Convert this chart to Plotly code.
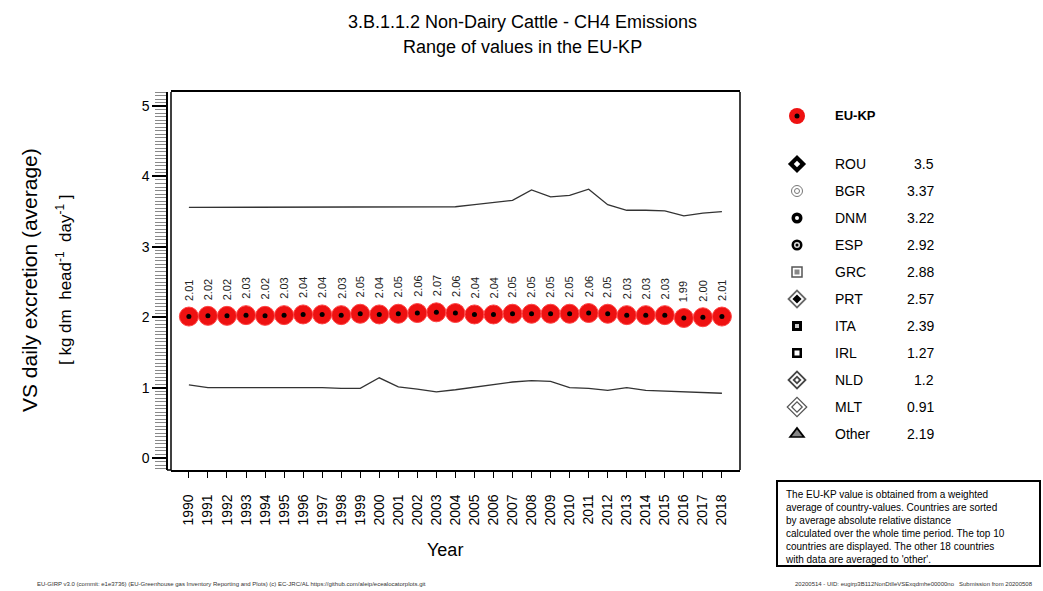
import plotly.graph_objects as go

# ---------------- data ----------------
years = list(range(1990, 2019))
eu_kp = [2.01, 2.02, 2.02, 2.03, 2.02, 2.03, 2.04, 2.04, 2.03, 2.05, 2.04, 2.05, 2.06, 2.07, 2.06,
         2.04, 2.04, 2.05, 2.05, 2.05, 2.05, 2.06, 2.05, 2.03, 2.03, 2.03, 1.99, 2.00, 2.01]
upper = [3.56, 3.56, 3.56, 3.56, 3.56, 3.56, 3.56, 3.56, 3.56, 3.56, 3.56, 3.56, 3.56, 3.56, 3.57,
         3.60, 3.63, 3.66, 3.81, 3.71, 3.73, 3.82, 3.60, 3.52, 3.52, 3.51, 3.44, 3.48, 3.50]
lower = [1.04, 1.00, 1.00, 1.00, 1.00, 1.00, 1.01, 1.00, 0.99, 0.99, 1.14, 1.01, 0.98, 0.94, 0.97,
         1.01, 1.05, 1.08, 1.10, 1.09, 1.00, 0.99, 0.96, 1.00, 0.96, 0.95, 0.94, 0.93, 0.92]
countries = ["ROU", "BGR", "DNM", "ESP", "GRC", "PRT", "ITA", "IRL", "NLD", "MLT", "Other"]
country_values = ["3.5", "3.37", "3.22", "2.92", "2.88", "2.57", "2.39", "1.27", "1.2", "0.91", "2.19"]

W, H = 1043, 591
FONT = "Liberation Sans, Arial, sans-serif"

def px(x):
    return x / W

def py(y):
    return 1 - y / H

fig = go.Figure()

# range lines
fig.add_trace(go.Scatter(x=years, y=upper, mode="lines", line=dict(color="#333333", width=1.3),
                         showlegend=False, hoverinfo="skip"))
fig.add_trace(go.Scatter(x=years, y=lower, mode="lines", line=dict(color="#333333", width=1.3),
                         showlegend=False, hoverinfo="skip"))
# EU-KP markers
fig.add_trace(go.Scatter(x=years, y=eu_kp, mode="markers",
                         marker=dict(symbol="circle", size=19, color="#ee1111",
                                     line=dict(color="#ff4444", width=1)),
                         showlegend=False))
fig.add_trace(go.Scatter(x=years, y=eu_kp, mode="markers",
                         marker=dict(symbol="circle", size=5, color="black"),
                         showlegend=False, hoverinfo="skip"))

# value labels
annotations = []
for yr, v in zip(years, eu_kp):
    annotations.append(dict(x=yr, y=v, xref="x", yref="y", text=f"{v:.2f}", showarrow=False,
                            textangle=-90, yanchor="bottom", yshift=14,
                            font=dict(family=FONT, size=11, color="#222222")))

fig.update_layout(
    width=W, height=H, margin=dict(l=0, r=0, t=0, b=0),
    paper_bgcolor="white", plot_bgcolor="rgba(0,0,0,0)",
    font=dict(family=FONT, color="black"),
    xaxis=dict(domain=[px(171), px(740)], range=[1989.06, 2018.95],
               tickmode="linear", tick0=1990, dtick=1,
               tickangle=-90, ticks="outside", ticklen=6, tickwidth=1.2, tickcolor="black",
               ticklabelstandoff=11,
               tickfont=dict(size=14, family=FONT), showgrid=False, zeroline=False,
               showline=True, linecolor="black", linewidth=1.5, mirror=True, anchor="y"),
    yaxis=dict(domain=[py(470), py(92)], range=[-0.17, 5.2],
               anchor="free", position=px(167),
               tickmode="linear", tick0=0, dtick=1,
               ticks="outside", ticklen=14, tickwidth=1.5, tickcolor="black",
               tickfont=dict(size=14, family=FONT), showgrid=False, zeroline=False,
               showline=True, linecolor="black", linewidth=1.5,
               minor=dict(dtick=0.05, ticks="outside", ticklen=11,
                          tickcolor="#888888", tickwidth=1, showgrid=False)),
    xaxis2=dict(domain=[0, 1], range=[0, W], visible=False, fixedrange=True, anchor="y2"),
    yaxis2=dict(domain=[0, 1], range=[H, 0], visible=False, fixedrange=True, anchor="x2"),
)

# plot box (inner left and right borders) and bottom extension to outer line
fig.add_shape(type="line", xref="paper", yref="paper", x0=px(171), x1=px(171), y0=py(470), y1=py(92),
              line=dict(color="black", width=1.5))
fig.add_shape(type="line", xref="paper", yref="paper", x0=px(740), x1=px(740), y0=py(470), y1=py(92),
              line=dict(color="black", width=1.5))
fig.add_shape(type="line", xref="paper", yref="paper", x0=px(167), x1=px(171), y0=py(470), y1=py(470),
              line=dict(color="black", width=1.5))

# titles
annotations += [
    dict(x=px(522), y=py(22), xref="paper", yref="paper", text="3.B.1.1.2 Non-Dairy Cattle - CH4 Emissions",
         showarrow=False, font=dict(size=18, family=FONT), xanchor="center", yanchor="middle"),
    dict(x=px(522), y=py(47), xref="paper", yref="paper", text="Range of values in the EU-KP",
         showarrow=False, font=dict(size=18, family=FONT), xanchor="center", yanchor="middle"),
    dict(x=px(445), y=py(550), xref="paper", yref="paper", text="Year",
         showarrow=False, font=dict(size=18, family=FONT), xanchor="center", yanchor="middle"),
    dict(x=px(30), y=py(280), xref="paper", yref="paper", text="VS daily excretion (average)",
         showarrow=False, textangle=-90, font=dict(size=21, family=FONT), xanchor="center", yanchor="middle"),
    dict(x=px(64), y=py(280), xref="paper", yref="paper",
         text="[ kg dm  head<sup>-1</sup>  day<sup>-1</sup> ]",
         showarrow=False, textangle=-90, font=dict(size=17, family=FONT), xanchor="center", yanchor="middle"),
]

# legend
fig.add_trace(go.Scatter(x=[797], y=[116], xaxis="x2", yaxis="y2", mode="markers",
                         marker=dict(symbol="circle", size=16, color="#ee1111"),
                         showlegend=False, hoverinfo="skip"))
fig.add_trace(go.Scatter(x=[797], y=[116], xaxis="x2", yaxis="y2", mode="markers",
                         marker=dict(symbol="circle", size=5, color="black"),
                         showlegend=False, hoverinfo="skip"))
annotations.append(dict(x=px(833), y=py(116), xref="paper", yref="paper", text="<b>EU-KP</b>",
                        showarrow=False, xanchor="left", yanchor="middle", font=dict(size=13, family=FONT)))

styles = [
    [("diamond", 14, "black", "black", 0), ("diamond", 5, "white", "white", 0)],
    [("circle-open", 11, "#777777", "#777777", 1), ("circle-open", 5, "#777777", "#777777", 1)],
    [("circle", 11, "black", "black", 0), ("circle", 4, "white", "white", 0)],
    [("circle", 11, "black", "black", 0), ("circle", 6, "#dddddd", "#dddddd", 0), ("circle", 3, "black", "black", 0)],
    [("square-open", 10, "#555555", "#555555", 1.5), ("square", 5, "#888888", "#888888", 0)],
    [("diamond", 15, "#666666", "#666666", 0), ("diamond", 11, "white", "white", 0), ("diamond", 7, "black", "black", 0)],
    [("square", 10, "black", "black", 0), ("square", 4, "#cccccc", "#cccccc", 0)],
    [("square", 10, "black", "black", 0), ("square", 5, "white", "white", 0)],
    [("diamond", 15, "#444444", "#444444", 0), ("diamond", 11, "white", "white", 0), ("diamond", 7, "#444444", "#444444", 0), ("diamond", 3, "white", "white", 0)],
    [("diamond-open", 15, "#555555", "#555555", 1.2), ("diamond-open", 8, "#555555", "#555555", 1.2)],
    [("triangle-up", 15, "black", "black", 0), ("triangle-up", 9, "#888888", "#888888", 0)],
]

for i, (name, val, st) in enumerate(zip(countries, country_values, styles)):
    yy = 164 + i * 27
    for sym, sz, col, lc, lw in st:
        fig.add_trace(go.Scatter(x=[797], y=[yy], xaxis="x2", yaxis="y2", mode="markers",
                                 marker=dict(symbol=sym, size=sz, color=col, line=dict(color=lc, width=lw)),
                                 showlegend=False, hoverinfo="skip"))
    annotations.append(dict(x=px(833), y=py(yy), xref="paper", yref="paper", text=name, showarrow=False,
                            xanchor="left", yanchor="middle", font=dict(size=14, family=FONT)))
    annotations.append(dict(x=px(936), y=py(yy), xref="paper", yref="paper", text=val, showarrow=False,
                            xanchor="right", yanchor="middle", font=dict(size=14, family=FONT)))

# note box
fig.add_shape(type="rect", xref="paper", yref="paper", x0=px(777), x1=px(1040), y0=py(566), y1=py(481),
              line=dict(color="black", width=2), fillcolor="white")
annotations.append(dict(x=px(783), y=py(487), xref="paper", yref="paper",
                        text=("The EU-KP value is obtained from a weighted<br>average of country-values. Countries are sorted<br>"
                              "by average absolute relative distance<br>calculated over the whole time period. The top 10<br>"
                              "countries are displayed. The other 18 countries<br>with data are averaged to 'other'."),
                        showarrow=False, xanchor="left", yanchor="top", align="left",
                        font=dict(size=10, family=FONT, color="black")))

# footer
annotations.append(dict(x=px(35), y=py(584), xref="paper", yref="paper",
                        text="EU-GIRP v3.0 (commit: e1e3736) (EU-Greenhouse gas Inventory Reporting and Plots) (c) EC-JRC/AL https://github.com/aleip/ecealocatorplots.git",
                        showarrow=False, xanchor="left", yanchor="middle", font=dict(size=6, family=FONT, color="#333333")))
annotations.append(dict(x=px(1035), y=py(584), xref="paper", yref="paper",
                        text="20200514 - UID: eugirp3B112NonDtlleVSExqdmhe00000no   Submission from 20200508",
                        showarrow=False, xanchor="right", yanchor="middle", font=dict(size=6, family=FONT, color="#333333")))

fig.update_layout(annotations=annotations)
fig.write_html("out.html", config={"displayModeBar": False},
               post_script="document.body.style.margin='0';document.body.style.overflow='hidden';")
